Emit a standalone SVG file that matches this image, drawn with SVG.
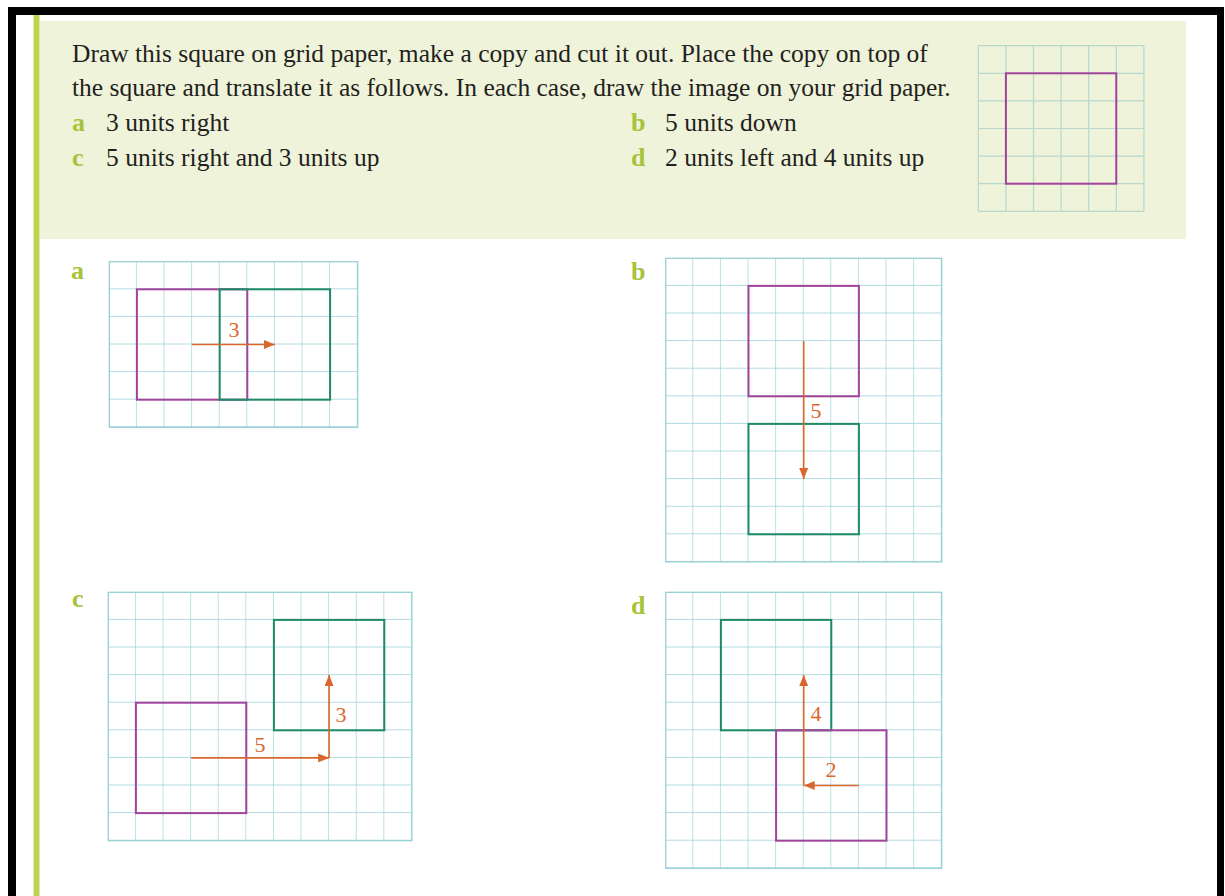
<svg xmlns="http://www.w3.org/2000/svg" width="1225" height="896" viewBox="0 0 1225 896">
<style>
.body{font-family:"Liberation Serif","Times New Roman",serif;font-size:25.5px;fill:#231f20}
.lab{font-family:"Liberation Serif","Times New Roman",serif;font-size:26px;font-weight:bold;fill:#a6c33a}
.num{font-family:"Liberation Serif","Times New Roman",serif;font-size:22px;fill:#d9672c;text-anchor:middle}
.grid{stroke:#97d0d6;stroke-width:1.3;fill:none}
.sgrid{stroke:#b8d8cf;stroke-width:1.2;fill:none}
.obj{stroke:#a2449c;stroke-width:2;fill:none}
.img{stroke:#1f8a68;stroke-width:2;fill:none}
.arr{stroke:#d9672c;stroke-width:1.6;fill:none}
</style>
<defs>
<marker id="ah" viewBox="0 0 11 9" refX="11" refY="4.5" markerWidth="11" markerHeight="9" markerUnits="userSpaceOnUse" orient="auto">
<path d="M0,0 L11,4.5 L0,9 Z" fill="#d9672c"/>
</marker>
<pattern id="gp" x="0" y="0" width="27.6" height="27.6" patternUnits="userSpaceOnUse">
<path d="M27.6,0 V27.6 M0,27.6 H27.6" stroke="#97d0d6" stroke-width="1.3" fill="none"/>
</pattern>
</defs>
<rect x="0" y="0" width="1225" height="896" fill="#ffffff"/>
<g id="frame">
<rect x="8" y="7" width="1216" height="8" fill="#000"/>
<rect x="8" y="7" width="8" height="889" fill="#000"/>
<rect x="1217" y="7" width="7" height="889" fill="#000"/>
<rect x="40" y="21" width="1146" height="218" fill="#eff3da"/>
<rect x="33.5" y="15" width="6" height="881" fill="#bcd44f"/>
</g>
<g id="task">
<text class="body" x="72" y="62">Draw this square on grid paper, make a copy and cut it out. Place the copy on top of</text>
<text class="body" x="72" y="96">the square and translate it as follows. In each case, draw the image on your grid paper.</text>
<text class="lab" x="72" y="131">a</text><text class="body" x="106" y="131">3 units right</text>
<text class="lab" x="631" y="131">b</text><text class="body" x="665" y="131">5 units down</text>
<text class="lab" x="72" y="166">c</text><text class="body" x="106" y="166">5 units right and 3 units up</text>
<text class="lab" x="631" y="166">d</text><text class="body" x="665" y="166">2 units left and 4 units up</text>
</g>
<g id="ref-grid">
<path class="sgrid" d="M978.3,45.7H1143.9M978.3,73.3H1143.9M978.3,100.9H1143.9M978.3,128.5H1143.9M978.3,156.1H1143.9M978.3,183.7H1143.9M978.3,211.3H1143.9M978.3,45.7V211.3M1005.9,45.7V211.3M1033.5,45.7V211.3M1061.1,45.7V211.3M1088.7,45.7V211.3M1116.3,45.7V211.3M1143.9,45.7V211.3"/>
<rect class="obj" x="1005.9" y="73.3" width="110.4" height="110.4"/>
</g>
<g id="panel-a">
<text class="lab" x="71" y="279">a</text>
<g transform="translate(109.3,261.7)">
<rect x="0" y="0" width="248.4" height="165.6" fill="url(#gp)"/>
<rect class="grid" x="0" y="0" width="248.4" height="165.6"/>
<rect class="obj" x="27.6" y="27.6" width="110.4" height="110.4"/>
<rect class="img" x="110.4" y="27.6" width="110.4" height="110.4"/>
</g>
</g>
<g id="panel-b">
<text class="lab" x="631" y="280">b</text>
<g transform="translate(665.7,258.3)">
<rect x="0" y="0" width="276" height="303.6" fill="url(#gp)"/>
<rect class="grid" x="0" y="0" width="276" height="303.6"/>
<rect class="obj" x="82.8" y="27.6" width="110.4" height="110.4"/>
<rect class="img" x="82.8" y="165.6" width="110.4" height="110.4"/>
</g>
</g>
<g id="panel-c">
<text class="lab" x="72" y="607">c</text>
<g transform="translate(108.3,592.3)">
<rect x="0" y="0" width="303.6" height="248.4" fill="url(#gp)"/>
<rect class="grid" x="0" y="0" width="303.6" height="248.4"/>
<rect class="obj" x="27.6" y="110.4" width="110.4" height="110.4"/>
<rect class="img" x="165.6" y="27.6" width="110.4" height="110.4"/>
</g>
</g>
<g id="panel-d">
<text class="lab" x="631" y="614">d</text>
<g transform="translate(665.7,592.3)">
<rect x="0" y="0" width="276" height="276" fill="url(#gp)"/>
<rect class="grid" x="0" y="0" width="276" height="276"/>
<rect class="img" x="55.2" y="27.6" width="110.4" height="110.4"/>
<rect class="obj" x="110.4" y="138" width="110.4" height="110.4"/>
</g>
</g>
<g id="connectors">
<path class="arr" d="M192.1,344.5H274.9" marker-end="url(#ah)"/>
<text class="num" x="234" y="337">3</text>
<path class="arr" d="M803.7,341.1V479.1" marker-end="url(#ah)"/>
<text class="num" x="816" y="418">5</text>
<path class="arr" d="M191.1,757.9H329.1" marker-end="url(#ah)"/>
<path class="arr" d="M329.1,757.9V675.1" marker-end="url(#ah)"/>
<text class="num" x="260" y="752">5</text>
<text class="num" x="341" y="722">3</text>
<path class="arr" d="M858.9,785.5H803.7" marker-end="url(#ah)"/>
<path class="arr" d="M803.7,785.5V675.1" marker-end="url(#ah)"/>
<text class="num" x="816" y="721">4</text>
<text class="num" x="831" y="777">2</text>
</g>
</svg>
